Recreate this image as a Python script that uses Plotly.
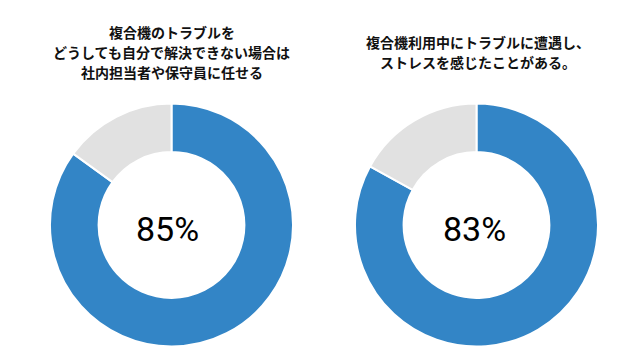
import plotly.graph_objects as go

labels = ["はい", "いいえ"]
left_values = [85, 15]
right_values = [83, 17]
left_title = ["複合機のトラブルを", "どうしても自分で解決できない場合は", "社内担当者や保守員に任せる"]
right_title = ["複合機利用中にトラブルに遭遇し、", "ストレスを感じたことがある。"]
colors = ["#3385C6", "#E1E1E1"]

W, H = 640, 360
OFF = 8  # page body margin offset


def px_x(x):
    return (x - OFF) / W


def px_y(y):
    return 1 - (y - OFF) / H


R = 121.5
centers = [(171.5, 225), (476.5, 225)]
domains = [dict(x=[px_x(cx - R), px_x(cx + R)], y=[px_y(cy + R), px_y(cy - R)]) for cx, cy in centers]

fig = go.Figure()
for vals, dom in zip([left_values, right_values], domains):
    fig.add_trace(go.Pie(
        labels=labels, values=vals, hole=0.6, sort=False, direction="clockwise",
        rotation=0, marker=dict(colors=colors, line=dict(color="white", width=2)),
        textinfo="none", hoverinfo="label+percent", domain=dom, showlegend=False,
    ))

font_cjk = "Noto Sans CJK JP"
ann = []
for i, line in enumerate(left_title):
    ann.append(dict(x=px_x(171.5), y=px_y(32 + 20 * i), xref="paper", yref="paper",
                    text=f"<b>{line}</b>", showarrow=False, xanchor="center", yanchor="middle",
                    font=dict(family=font_cjk, size=14, color="#111")))
for i, line in enumerate(right_title):
    ann.append(dict(x=px_x(478), y=px_y(42 + 20 * i), xref="paper", yref="paper",
                    text=f"<b>{line}</b>", showarrow=False, xanchor="center", yanchor="middle",
                    font=dict(family=font_cjk, size=14, color="#111")))
pct_pos = [(167.5, 228.5), (474.5, 228.5)]
for vals, (tx, ty) in zip([left_values, right_values], pct_pos):
    ann.append(dict(x=px_x(tx), y=px_y(ty), xref="paper", yref="paper",
                    text=f"{vals[0]}%", showarrow=False, xanchor="center", yanchor="middle",
                    font=dict(family="Roboto", size=34, color="#000")))

fig.update_layout(width=W, height=H, margin=dict(l=0, r=0, t=0, b=0),
                  paper_bgcolor="white", annotations=ann)
fig.write_html("out.html")
